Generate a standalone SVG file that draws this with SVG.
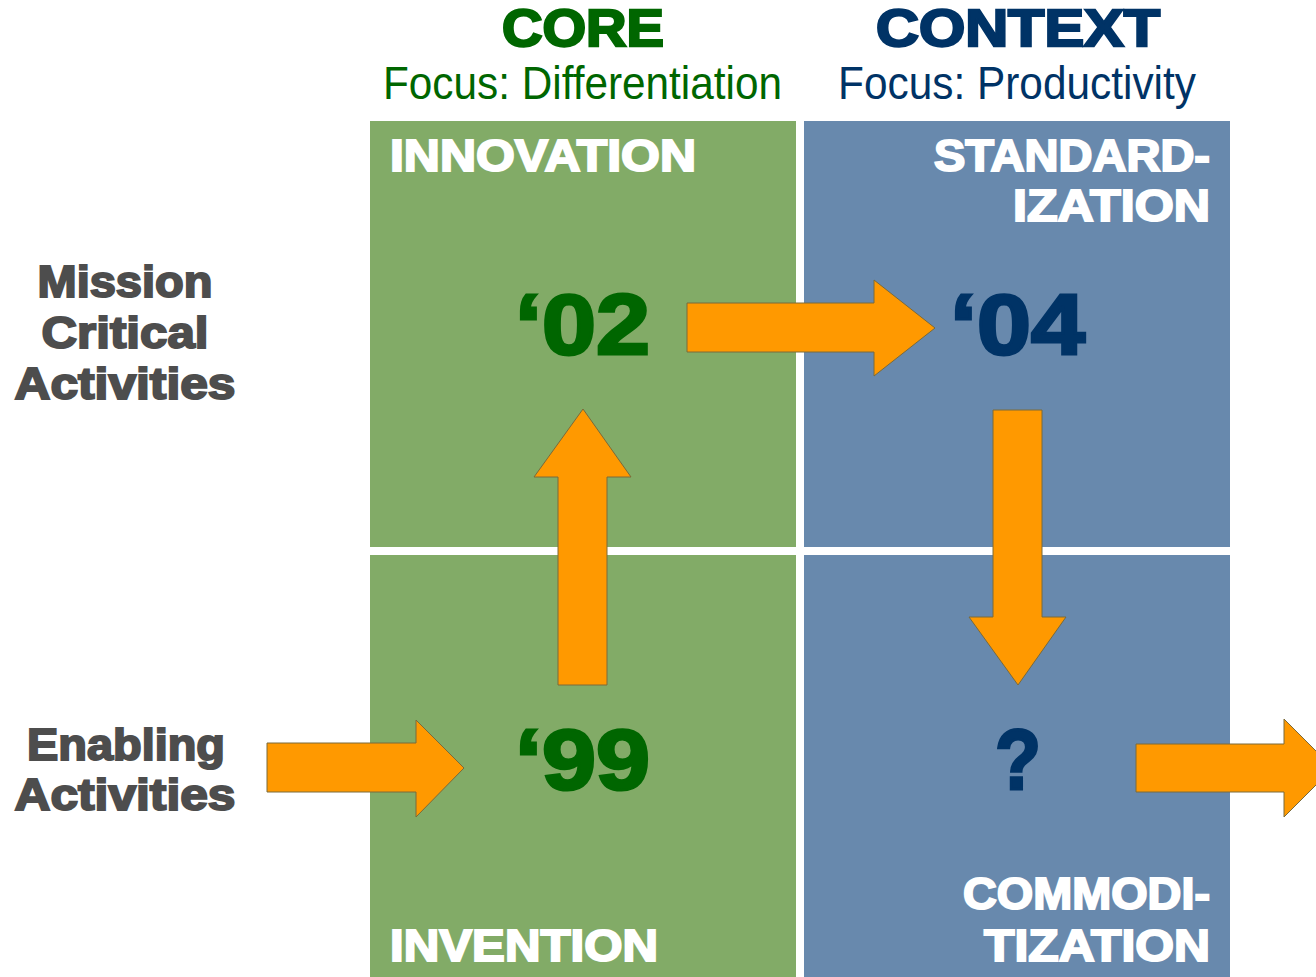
<svg xmlns="http://www.w3.org/2000/svg" width="1316" height="977" viewBox="0 0 1316 977">
<style>
.hv{font-family:"Liberation Sans",Arial,sans-serif;font-weight:bold;}
.w{fill:#fff;stroke:#fff;stroke-width:2;}
.g{fill:#006600;}
.n{fill:#003366;}
.gr{fill:#4d4d4d;stroke:#4d4d4d;stroke-width:2;}
.foc{font-family:"Liberation Sans",Arial,sans-serif;font-size:46px;}
.yr{font-size:86px;stroke-width:3;}
.arr{fill:#ff9900;stroke:#7a6a3a;stroke-width:1;}
.qg{fill:#82ab67;}
.qb{fill:#6889ad;}
</style>
<rect width="1316" height="977" fill="#fff"/>
<g id="header-core">
<text class="hv g" x="583" y="46" font-size="52" text-anchor="middle" stroke="#006600" stroke-width="2.4" textLength="162" lengthAdjust="spacingAndGlyphs">CORE</text>
<text class="foc g" x="383" y="99" textLength="399" lengthAdjust="spacingAndGlyphs">Focus: Differentiation</text>
</g>
<g id="header-context">
<text class="hv n" x="1018" y="46" font-size="52" text-anchor="middle" stroke="#003366" stroke-width="2.4" textLength="284" lengthAdjust="spacingAndGlyphs">CONTEXT</text>
<text class="foc n" x="838" y="99" textLength="358" lengthAdjust="spacingAndGlyphs">Focus: Productivity</text>
</g>
<g id="row-mission">
<text class="hv gr" font-size="44" text-anchor="middle"><tspan x="125" y="297" textLength="175" lengthAdjust="spacingAndGlyphs">Mission</tspan><tspan x="125" y="348" textLength="167" lengthAdjust="spacingAndGlyphs">Critical</tspan><tspan x="125" y="399" textLength="221" lengthAdjust="spacingAndGlyphs">Activities</tspan></text>
</g>
<g id="row-enabling">
<text class="hv gr" font-size="44" text-anchor="middle"><tspan x="126" y="760" textLength="198" lengthAdjust="spacingAndGlyphs">Enabling</tspan><tspan x="125" y="810" textLength="221" lengthAdjust="spacingAndGlyphs">Activities</tspan></text>
</g>
<g id="innovation">
<rect class="qg" x="370" y="121" width="426" height="426"/>
<text class="hv w" x="390" y="171" font-size="44" textLength="306" lengthAdjust="spacingAndGlyphs">INNOVATION</text>
<text class="hv g yr" x="515" y="354" stroke="#006600" textLength="135" lengthAdjust="spacingAndGlyphs">‘02</text>
</g>
<g id="standardization">
<rect class="qb" x="804" y="121" width="426" height="426"/>
<text class="hv w" font-size="44" text-anchor="end"><tspan x="1210" y="171" textLength="276" lengthAdjust="spacingAndGlyphs">STANDARD-</tspan><tspan x="1210" y="221" textLength="197" lengthAdjust="spacingAndGlyphs">IZATION</tspan></text>
<text class="hv n yr" x="950" y="354" stroke="#003366" textLength="135" lengthAdjust="spacingAndGlyphs">‘04</text>
</g>
<g id="invention">
<rect class="qg" x="370" y="555" width="426" height="422"/>
<text class="hv w" x="390" y="961" font-size="44" textLength="268" lengthAdjust="spacingAndGlyphs">INVENTION</text>
<text class="hv g yr" x="515" y="789" stroke="#006600" textLength="135" lengthAdjust="spacingAndGlyphs">‘99</text>
</g>
<g id="commoditization">
<rect class="qb" x="804" y="555" width="426" height="422"/>
<text class="hv w" font-size="44" text-anchor="end"><tspan x="1210" y="909" textLength="247" lengthAdjust="spacingAndGlyphs">COMMODI-</tspan><tspan x="1210" y="961" textLength="226" lengthAdjust="spacingAndGlyphs">TIZATION</tspan></text>
<text class="hv n yr" x="995" y="789" stroke="#003366" textLength="46" lengthAdjust="spacingAndGlyphs">?</text>
</g>
<g id="connectors">
<polygon class="arr" points="267,743 416,743 416,720 464,768 416,817 416,792 267,792"/>
<polygon class="arr" points="558,685 558,477 534,477 583,409 631,477 607,477 607,685"/>
<polygon class="arr" points="687,303 874,303 874,280 935,328 874,376 874,352 687,352"/>
<polygon class="arr" points="993,410 1042,410 1042,617 1066,617 1018,685 969,617 993,617"/>
<polygon class="arr" points="1136,744 1284,744 1284,719 1333,768 1284,817 1284,792 1136,792"/>
</g>
</svg>
